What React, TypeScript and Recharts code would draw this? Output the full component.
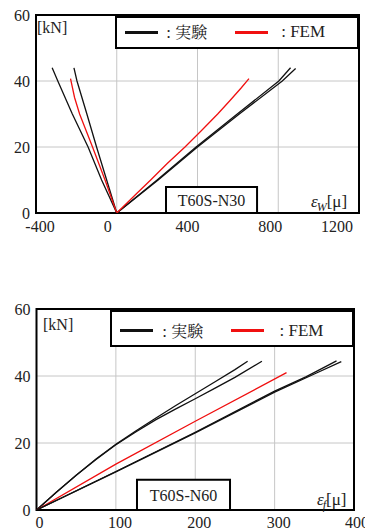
import React from 'react';
import { LineChart, Line, XAxis, YAxis, CartesianGrid, ReferenceArea, Legend } from 'recharts';

const SERIF = '"Liberation Serif", "Times New Roman", "DejaVu Serif", serif';
const CJK = '"Noto Serif CJK JP", "Noto Sans CJK JP", serif';

// ---------- Chart 1 : T60S-N30 (strain εw) ----------
const n30Title = 'T60S-N30';
const n30XTicks = [-400, 0, 400, 800, 1200];
const n30YTicks = [0, 20, 40, 60];
const n30ExpLeftOuter = [
  { x: 0, y: 0 }, { x: -75, y: 10 }, { x: -142, y: 20 }, { x: -220, y: 30 }, { x: -292, y: 40 }, { x: -320, y: 44 },
];
const n30ExpLeftInner = [
  { x: 0, y: 0 }, { x: -50, y: 10 }, { x: -100, y: 20 }, { x: -148, y: 30 }, { x: -197, y: 40 }, { x: -212, y: 44 },
];
const n30FemLeft = [
  { x: 0, y: 0 }, { x: -58, y: 10 }, { x: -120, y: 20 }, { x: -152, y: 25 }, { x: -184, y: 30 }, { x: -209, y: 35 }, { x: -229, y: 40.7 },
];
const n30ExpRightA = [
  { x: 0, y: 0 }, { x: 200, y: 10 }, { x: 393, y: 20 }, { x: 597, y: 30 }, { x: 803, y: 40 }, { x: 861, y: 44 },
];
const n30ExpRightB = [
  { x: 0, y: 0 }, { x: 205, y: 10 }, { x: 400, y: 20 }, { x: 607, y: 30 }, { x: 820, y: 40 }, { x: 886, y: 43.8 },
];
const n30FemRight = [
  { x: 0, y: 0 }, { x: 100, y: 6 }, { x: 168, y: 10 }, { x: 250, y: 15 }, { x: 338, y: 20 }, { x: 420, y: 25 },
  { x: 500, y: 30 }, { x: 560, y: 34 }, { x: 615, y: 37.8 }, { x: 655, y: 40.7 },
];

// ---------- Chart 2 : T60S-N60 (strain εf) ----------
const n60Title = 'T60S-N60';
const n60XTicks = [0, 100, 200, 300, 400];
const n60YTicks = [0, 20, 40, 60];
const n60ExpUpperA = [
  { x: 0, y: 0 }, { x: 25, y: 5.3 }, { x: 50, y: 10.4 }, { x: 75, y: 15.2 }, { x: 100, y: 19.6 }, { x: 125, y: 23.6 },
  { x: 150, y: 27.4 }, { x: 175, y: 31.1 }, { x: 200, y: 34.7 }, { x: 225, y: 38.3 }, { x: 250, y: 41.9 }, { x: 266, y: 44.4 },
];
const n60ExpUpperB = [
  { x: 0, y: 0 }, { x: 25, y: 5.3 }, { x: 50, y: 10.4 }, { x: 75, y: 15.1 }, { x: 100, y: 19.5 }, { x: 125, y: 23.3 },
  { x: 150, y: 26.9 }, { x: 175, y: 30.1 }, { x: 200, y: 33.2 }, { x: 225, y: 36.4 }, { x: 250, y: 39.6 }, { x: 284, y: 44.4 },
];
const n60Fem = [
  { x: 0, y: 0 }, { x: 100, y: 13.7 }, { x: 200, y: 26.5 }, { x: 315, y: 41 },
];
const n60ExpLowerA = [
  { x: 0, y: 0 }, { x: 100, y: 11.5 }, { x: 200, y: 23.2 }, { x: 300, y: 35.5 }, { x: 340, y: 39.8 }, { x: 378, y: 44.5 },
];
const n60ExpLowerB = [
  { x: 0, y: 0 }, { x: 100, y: 11.4 }, { x: 200, y: 23 }, { x: 300, y: 35.2 }, { x: 350, y: 40.6 }, { x: 384, y: 44.3 },
];

const legendExp = '実験';
const legendFem = 'FEM';
const yUnit = '[kN]';

const BLACK = '#111';
const RED = '#f01010';
const GRID = '#c6c6c6';
const TXT = '#222';

const makeXTick = (shifts: number[]) => (props: any) => {
  const { x, y, payload, index } = props;
  return (
    <text x={x + (shifts[index] || 0)} y={y} dy="0.71em" textAnchor="middle" fontSize={16} fontFamily={SERIF} fill={TXT}>
      {payload.value}
    </text>
  );
};

const LegendBox = ({ lay }: { lay: any }) => (
  <div
    style={{
      position: 'relative', width: '100%', height: '100%', boxSizing: 'border-box',
      borderStyle: 'solid', borderColor: '#000', borderWidth: '3px 3.5px 2px 2.5px',
      background: '#fff', fontFamily: SERIF, fontSize: 17, color: TXT,
    }}
  >
    <div style={{ position: 'absolute', left: lay.l1, top: lay.cy - 1.5, width: 33, height: 3, background: BLACK }} />
    <span style={{ position: 'absolute', left: lay.t1, top: lay.cy - 10, lineHeight: '20px', whiteSpace: 'nowrap' }}>
      {': '}<span style={{ fontFamily: CJK, fontSize: 16 }}>{legendExp}</span>
    </span>
    <div style={{ position: 'absolute', left: lay.l2, top: lay.cy - 1.5, width: 33, height: 3, background: RED }} />
    <span style={{ position: 'absolute', left: lay.t2, top: lay.cy - 10, lineHeight: '20px', whiteSpace: 'nowrap' }}>
      {': ' + legendFem}
    </span>
  </div>
);

const unitStyle: React.CSSProperties = { position: 'absolute', fontFamily: SERIF, fontSize: 16, color: TXT, lineHeight: '18px', whiteSpace: 'nowrap' };

const StrainLabel = ({ sub, left, top }: { sub: string; left: number; top: number }) => (
  <div style={{ ...unitStyle, left, top, fontSize: 17 }}>
    <span style={{ fontStyle: 'italic' }}>ε</span>
    <span style={{ fontStyle: 'italic', fontSize: 12, position: 'relative', top: 4, marginLeft: -1 }}>{sub}</span>
    <span>[μ]</span>
  </div>
);

export default function App() {
  return (
    <div style={{ position: 'absolute', left: 0, top: 0, width: 365, height: 531, background: '#fff', overflow: 'hidden' }}>
      {/* Top chart */}
      <div style={{ position: 'absolute', left: 0, top: 0 }}>
        <LineChart width={365} height={240} margin={{ top: 15, right: 6, bottom: 7, left: 6 }}>
          <CartesianGrid stroke={GRID} strokeWidth={1} />
          <XAxis type="number" dataKey="x" domain={[-400, 1200]} ticks={n30XTicks} height={20} tickSize={0} tickMargin={8}
            axisLine={false} tickLine={false} tick={makeXTick([4, -9, -10, -8, -12])} allowDataOverflow />
          <YAxis type="number" domain={[0, 60]} ticks={n30YTicks} width={30} tickSize={0} tickMargin={6}
            axisLine={false} tickLine={false} tick={{ fontSize: 16, fontFamily: SERIF, fill: TXT }} allowDataOverflow />
          <Line data={n30ExpLeftOuter} dataKey="y" stroke={BLACK} strokeWidth={1.3} dot={false} isAnimationActive={false} />
          <Line data={n30ExpLeftInner} dataKey="y" stroke={BLACK} strokeWidth={1.3} dot={false} isAnimationActive={false} />
          <Line data={n30FemLeft} dataKey="y" stroke={RED} strokeWidth={1.3} dot={false} isAnimationActive={false} />
          <Line data={n30ExpRightA} dataKey="y" stroke={BLACK} strokeWidth={1.3} dot={false} isAnimationActive={false} />
          <Line data={n30ExpRightB} dataKey="y" stroke={BLACK} strokeWidth={1.3} dot={false} isAnimationActive={false} />
          <Line data={n30FemRight} dataKey="y" stroke={RED} strokeWidth={1.3} dot={false} isAnimationActive={false} />
          <ReferenceArea x1={244} x2={695} y1={0} y2={7.9} fill="#fff" fillOpacity={1} stroke="#000" strokeWidth={2}
            label={{ value: n30Title, position: 'center', fontSize: 16, fontFamily: SERIF, fill: TXT }} />
          <ReferenceArea x1={-400} x2={1200} y1={0} y2={60} fill="none" stroke="#000" strokeWidth={2} />
          <Legend layout="vertical" align="center" verticalAlign="middle"
            wrapperStyle={{ left: 115, top: 15, width: 244.5, height: 34 }}
            content={() => <LegendBox lay={{ l1: 7.5, t1: 49.2, l2: 117.5, t2: 164.2, cy: 14 }} />} />
        </LineChart>
        <div style={{ ...unitStyle, left: 37, top: 19 }}>{yUnit}</div>
        <StrainLabel sub="W" left={311} top={193} />
      </div>

      {/* Bottom chart */}
      <div style={{ position: 'absolute', left: 0, top: 290 }}>
        <LineChart width={365} height={241} margin={{ top: 19, right: 11, bottom: 5, left: 6.5 }}>
          <CartesianGrid stroke={GRID} strokeWidth={1} />
          <XAxis type="number" dataKey="x" domain={[0, 400]} ticks={n60XTicks} height={16} tickSize={0} tickMargin={7}
            axisLine={false} tickLine={false} tick={makeXTick([3, 4, 4, 4, 4])} allowDataOverflow />
          <YAxis type="number" domain={[0, 60]} ticks={n60YTicks} width={30} tickSize={0} tickMargin={6}
            axisLine={false} tickLine={false} tick={{ fontSize: 16, fontFamily: SERIF, fill: TXT }} allowDataOverflow />
          <Line data={n60ExpUpperA} dataKey="y" stroke={BLACK} strokeWidth={1.3} dot={false} isAnimationActive={false} />
          <Line data={n60ExpUpperB} dataKey="y" stroke={BLACK} strokeWidth={1.3} dot={false} isAnimationActive={false} />
          <Line data={n60Fem} dataKey="y" stroke={RED} strokeWidth={1.3} dot={false} isAnimationActive={false} />
          <Line data={n60ExpLowerA} dataKey="y" stroke={BLACK} strokeWidth={1.3} dot={false} isAnimationActive={false} />
          <Line data={n60ExpLowerB} dataKey="y" stroke={BLACK} strokeWidth={1.3} dot={false} isAnimationActive={false} />
          <ReferenceArea x1={126.6} x2={243.8} y1={0} y2={9} fill="#fff" fillOpacity={1} stroke="#000" strokeWidth={2}
            label={{ value: n60Title, position: 'center', fontSize: 16, fontFamily: SERIF, fill: TXT }} />
          <ReferenceArea x1={0} x2={400} y1={0} y2={60} fill="none" stroke="#000" strokeWidth={2} />
          <Legend layout="vertical" align="center" verticalAlign="middle"
            wrapperStyle={{ left: 110, top: 19, width: 245, height: 37.7 }}
            content={() => <LegendBox lay={{ l1: 8.2, t1: 50.2, l2: 119.2, t2: 167.5, cy: 18.7 }} />} />
        </LineChart>
        <div style={{ ...unitStyle, left: 43, top: 26 }}>{yUnit}</div>
        <StrainLabel sub="f" left={317} top={201} />
      </div>
    </div>
  );
}
